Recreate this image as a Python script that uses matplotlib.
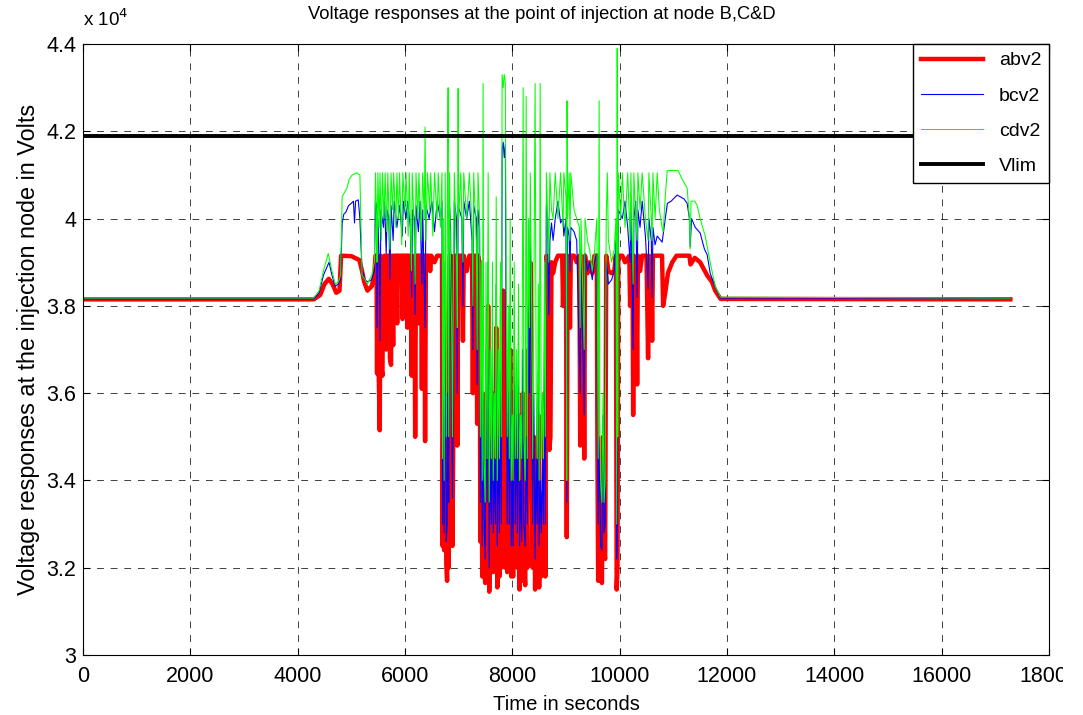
#Voltage responses at the point of injection (nodes B, C, D) vs Vlim

import matplotlib
matplotlib.use("Agg")
import matplotlib.pyplot as plt
from matplotlib.ticker import FuncFormatter
from matplotlib.transforms import Bbox, TransformedBbox

plt.rcParams['font.family'] = ['Liberation Sans', 'DejaVu Sans']

SCALE = 1e4  # values below are in units of 10^4 V

# abv2 : (time s, voltage x1e4)
abv2 = [
    (0, 3.815), (4300, 3.815), (4420, 3.825), (4500, 3.85), (4580, 3.862), (4650, 3.85),
    (4720, 3.83), (4780, 3.835), (4810, 3.915), (5000, 3.914), (5150, 3.905), (5200, 3.88),
    (5240, 3.855), (5300, 3.835), (5380, 3.845), (5430, 3.87), (5450, 3.915),
    (5470, 3.915), (5480, 3.645), (5490, 3.91), (5510, 3.65), (5530, 3.515), (5545, 3.915),
    (5560, 3.66), (5580, 3.64), (5595, 3.9), (5620, 3.915), (5650, 3.70), (5665, 3.915),
    (5700, 3.915), (5720, 3.68), (5740, 3.665), (5755, 3.915), (5780, 3.71), (5795, 3.915),
    (5840, 3.915), (5855, 3.76), (5870, 3.915), (5940, 3.915), (5955, 3.77), (5970, 3.915),
    (6040, 3.915), (6050, 3.75), (6065, 3.915), (6110, 3.915), (6125, 3.64), (6140, 3.9),
    (6175, 3.915), (6190, 3.5), (6205, 3.915), (6240, 3.915), (6250, 3.76), (6265, 3.915),
    (6300, 3.915), (6315, 3.61), (6330, 3.915), (6360, 3.915), (6375, 3.49), (6390, 3.915),
    (6450, 3.915), (6470, 3.88), (6490, 3.915), (6550, 3.9), (6600, 3.915), (6660, 3.915),
    (6690, 3.915), (6700, 3.25), (6715, 3.55), (6730, 3.24), (6750, 3.7), (6770, 3.21),
    (6785, 3.17), (6800, 3.45), (6815, 3.2), (6830, 3.915), (6850, 3.915), (6870, 3.55),
    (6885, 3.25), (6900, 3.51), (6920, 3.915), (6960, 3.915), (6975, 3.48), (6990, 3.915),
    (7060, 3.915), (7080, 3.72), (7095, 3.915), (7150, 3.88), (7200, 3.915), (7250, 3.915),
    (7265, 3.6), (7280, 3.915), (7330, 3.915), (7345, 3.53), (7360, 3.915), (7390, 3.9),
    (7405, 3.26), (7420, 3.6), (7440, 3.18), (7455, 3.5), (7475, 3.2), (7495, 3.165),
    (7510, 3.6), (7530, 3.25), (7550, 3.8), (7570, 3.145), (7590, 3.4), (7610, 3.2),
    (7630, 3.6), (7645, 3.19), (7665, 3.35), (7685, 3.22), (7700, 3.75), (7720, 3.155),
    (7740, 3.4), (7760, 3.18), (7780, 3.6), (7795, 3.2), (7810, 3.83), (7830, 3.835),
    (7850, 3.83), (7870, 3.2), (7885, 3.6), (7905, 3.19), (7925, 3.5), (7945, 3.2),
    (7960, 3.7), (7980, 3.18), (8000, 3.3), (8015, 3.18), (8035, 3.6), (8055, 3.22),
    (8075, 3.45), (8095, 3.2), (8115, 3.55), (8135, 3.15), (8155, 3.3), (8175, 3.17),
    (8195, 3.6), (8215, 3.22), (8240, 3.16), (8260, 3.4), (8280, 3.2), (8300, 3.7),
    (8320, 3.51), (8335, 3.9), (8360, 3.52), (8380, 3.2), (8400, 3.5), (8425, 3.15),
    (8445, 3.35), (8465, 3.2), (8485, 3.55), (8500, 3.155), (8520, 3.3), (8540, 3.18),
    (8560, 3.37), (8580, 3.19), (8600, 3.6), (8615, 3.18), (8635, 3.915), (8660, 3.9),
    (8675, 3.5), (8690, 3.47), (8710, 3.5), (8730, 3.9), (8760, 3.875), (8800, 3.9),
    (8850, 3.915), (8930, 3.915), (8945, 3.8), (8960, 3.915), (9000, 3.915), (9015, 3.27),
    (9030, 3.915), (9060, 3.9), (9075, 3.75), (9090, 3.915), (9150, 3.915), (9200, 3.9),
    (9250, 3.915), (9265, 3.48), (9280, 3.915), (9320, 3.9), (9340, 3.45), (9355, 3.915),
    (9400, 3.875), (9440, 3.9), (9490, 3.875), (9530, 3.915), (9575, 3.915), (9585, 3.49),
    (9600, 3.17), (9620, 3.4), (9645, 3.2), (9670, 3.165), (9690, 3.5), (9710, 3.24),
    (9730, 3.22), (9750, 3.915), (9770, 3.9), (9790, 3.88), (9850, 3.875), (9900, 3.88),
    (9930, 3.915), (9945, 3.15), (9960, 3.2), (9975, 3.915), (10050, 3.915), (10100, 3.9),
    (10180, 3.915), (10195, 3.8), (10210, 3.915), (10240, 3.915), (10252, 3.55), (10265, 3.915),
    (10310, 3.9), (10326, 3.62), (10340, 3.915), (10380, 3.88), (10420, 3.915), (10500, 3.915),
    (10530, 3.68), (10545, 3.915), (10590, 3.9), (10605, 3.72), (10620, 3.915), (10700, 3.915),
    (10790, 3.915), (10810, 3.8), (10850, 3.83), (10900, 3.875), (10980, 3.9), (11060, 3.915),
    (11130, 3.915), (11300, 3.915), (11320, 3.895), (11400, 3.91), (11500, 3.9), (11630, 3.87),
    (11720, 3.855), (11780, 3.835), (11880, 3.816), (17280, 3.815),
]

# bcv2
bcv2 = [
    (0, 3.816), (4300, 3.816), (4400, 3.83), (4480, 3.87), (4585, 3.90), (4640, 3.87),
    (4700, 3.845), (4760, 3.85), (4800, 3.86), (4830, 3.99), (4860, 4.01), (4900, 4.015),
    (4950, 4.03), (5000, 4.035), (5040, 4.04), (5060, 3.99), (5080, 4.04), (5130, 4.043),
    (5160, 4.0), (5200, 3.88), (5260, 3.86), (5300, 3.855), (5380, 3.86), (5430, 3.88),
    (5450, 4.04), (5470, 4.03), (5480, 3.75), (5495, 4.0), (5520, 3.9), (5535, 3.72),
    (5550, 4.02), (5600, 3.98), (5620, 4.04), (5650, 3.92), (5670, 4.02), (5700, 4.0),
    (5720, 3.86), (5740, 4.03), (5780, 3.95), (5800, 4.04), (5850, 3.98), (5900, 4.03),
    (5950, 3.96), (5970, 4.04), (6020, 4.0), (6050, 4.04), (6100, 3.98), (6125, 3.82),
    (6140, 4.02), (6175, 4.0), (6190, 3.78), (6205, 4.03), (6250, 3.97), (6280, 4.04),
    (6315, 3.85), (6330, 4.02), (6375, 3.75), (6390, 4.03), (6450, 4.0), (6500, 4.04),
    (6550, 3.97), (6600, 4.04), (6660, 4.0), (6690, 4.04), (6700, 3.3), (6715, 3.7),
    (6730, 3.28), (6750, 3.9), (6770, 3.26), (6785, 3.3), (6800, 3.6), (6815, 3.35),
    (6830, 4.03), (6850, 3.98), (6870, 3.6), (6885, 3.36), (6900, 3.6), (6920, 4.04),
    (6960, 4.0), (6975, 3.6), (6990, 4.03), (7060, 4.0), (7080, 3.8), (7095, 4.04),
    (7150, 4.0), (7200, 4.04), (7250, 3.95), (7265, 3.7), (7280, 4.03), (7330, 4.0),
    (7345, 3.62), (7360, 4.02), (7390, 3.98), (7405, 3.35), (7420, 3.7), (7440, 3.25),
    (7455, 3.6), (7475, 3.3), (7495, 3.22), (7510, 3.7), (7530, 3.35), (7550, 3.9),
    (7570, 3.2), (7590, 3.5), (7610, 3.3), (7630, 3.7), (7645, 3.28), (7665, 3.45),
    (7685, 3.3), (7700, 3.85), (7720, 3.25), (7740, 3.5), (7760, 3.28), (7780, 3.7),
    (7795, 3.3), (7810, 4.16), (7830, 4.175), (7850, 4.14), (7870, 4.17), (7885, 3.7),
    (7905, 3.3), (7925, 3.6), (7945, 3.3), (7960, 3.8), (7980, 3.25), (8000, 3.4),
    (8015, 3.25), (8035, 3.7), (8055, 3.3), (8075, 3.55), (8095, 3.28), (8115, 3.65),
    (8135, 3.25), (8155, 3.4), (8175, 3.26), (8195, 3.7), (8215, 3.3), (8240, 3.25),
    (8260, 3.5), (8280, 3.3), (8300, 3.8), (8320, 3.6), (8335, 4.0), (8360, 3.62),
    (8380, 3.3), (8400, 3.6), (8425, 3.22), (8445, 3.45), (8465, 3.3), (8485, 3.65),
    (8500, 3.25), (8520, 3.4), (8540, 3.28), (8560, 3.45), (8580, 3.3), (8600, 3.7),
    (8615, 3.3), (8635, 4.03), (8660, 4.0), (8680, 3.78), (8700, 3.95), (8730, 3.99),
    (8760, 3.95), (8800, 4.0), (8850, 4.04), (8900, 3.99), (8945, 4.0), (8960, 3.96),
    (9000, 4.0), (9015, 3.35), (9030, 3.98), (9060, 3.96), (9075, 3.88), (9090, 3.98),
    (9150, 3.97), (9200, 3.95), (9265, 3.6), (9280, 3.93), (9340, 3.55), (9355, 3.92),
    (9400, 3.88), (9440, 3.9), (9490, 3.86), (9530, 3.9), (9575, 3.92), (9585, 3.6),
    (9600, 3.3), (9620, 3.5), (9645, 3.25), (9670, 3.24), (9690, 3.55), (9710, 3.28),
    (9730, 3.3), (9750, 3.9), (9770, 3.88), (9790, 3.85), (9850, 3.86), (9900, 3.88),
    (9930, 3.95), (9945, 3.22), (9960, 3.35), (9975, 4.02), (10050, 4.0), (10100, 4.04),
    (10150, 3.98), (10195, 3.9), (10210, 4.03), (10252, 3.7), (10265, 4.0), (10300, 4.04),
    (10326, 3.82), (10340, 4.02), (10380, 3.98), (10420, 4.04), (10480, 3.96), (10530, 3.84),
    (10545, 4.0), (10590, 3.95), (10605, 3.82), (10620, 3.98), (10660, 3.94), (10700, 3.96),
    (10792, 3.946), (10850, 4.0), (10890, 4.035), (10960, 4.04), (11072, 4.054), (11200, 4.045),
    (11258, 4.035), (11300, 4.0), (11314, 3.935), (11340, 4.0), (11408, 3.98), (11500, 3.967),
    (11580, 3.93), (11631, 3.917), (11687, 3.875), (11780, 3.843), (11880, 3.818), (17280, 3.818),
]

# cdv2
cdv2 = [
    (0, 3.818), (4300, 3.818), (4400, 3.835), (4480, 3.88), (4570, 3.92), (4640, 3.88),
    (4700, 3.85), (4760, 3.855), (4800, 3.87), (4830, 4.05), (4920, 4.07), (4960, 4.09),
    (5015, 4.1), (5100, 4.105), (5160, 4.1), (5200, 3.87), (5260, 3.86), (5300, 3.85),
    (5380, 3.87), (5430, 3.9), (5450, 4.105), (5470, 4.0), (5480, 3.9), (5495, 4.105),
    (5520, 3.98), (5535, 4.105), (5560, 3.95), (5580, 4.105), (5610, 4.0), (5630, 4.105),
    (5660, 3.97), (5680, 4.105), (5720, 3.93), (5740, 4.105), (5770, 4.02), (5790, 4.105),
    (5830, 3.98), (5850, 4.105), (5880, 4.0), (5900, 4.105), (5940, 3.94), (5960, 4.105),
    (6000, 4.02), (6020, 4.105), (6060, 3.96), (6080, 4.105), (6120, 3.88), (6135, 4.105),
    (6170, 3.98), (6190, 3.85), (6205, 4.105), (6240, 4.0), (6260, 4.105), (6300, 3.95),
    (6330, 4.105), (6360, 4.0), (6375, 4.21), (6390, 3.95), (6420, 4.105), (6460, 4.02),
    (6480, 4.105), (6520, 3.96), (6550, 4.105), (6600, 4.0), (6620, 4.105), (6660, 3.98),
    (6690, 4.105), (6700, 3.45), (6715, 4.0), (6730, 3.4), (6750, 4.105), (6770, 3.5),
    (6790, 4.05), (6804, 4.30), (6815, 3.5), (6830, 4.105), (6850, 3.9), (6870, 3.75),
    (6885, 3.5), (6900, 3.8), (6920, 4.105), (6960, 3.9), (6975, 3.75), (6990, 4.298),
    (7000, 4.0), (7040, 4.105), (7080, 3.9), (7095, 4.105), (7150, 4.0), (7200, 4.105),
    (7250, 3.98), (7265, 3.8), (7280, 4.105), (7330, 3.95), (7345, 3.7), (7360, 4.105),
    (7390, 4.0), (7405, 3.5), (7420, 3.9), (7440, 3.4), (7456, 4.31), (7470, 3.45),
    (7495, 3.35), (7510, 3.9), (7530, 3.45), (7550, 4.105), (7570, 3.35), (7590, 3.7),
    (7610, 3.45), (7630, 3.9), (7645, 3.4), (7665, 3.6), (7685, 3.45), (7700, 4.05),
    (7720, 3.4), (7740, 3.7), (7760, 3.45), (7780, 3.9), (7795, 3.5), (7810, 4.33),
    (7830, 4.30), (7850, 4.33), (7870, 4.31), (7885, 3.9), (7905, 3.5), (7925, 3.8),
    (7945, 3.45), (7960, 4.0), (7980, 3.4), (8000, 3.55), (8015, 3.4), (8035, 3.9),
    (8055, 3.45), (8075, 3.7), (8095, 3.45), (8115, 3.85), (8135, 3.4), (8155, 3.55),
    (8175, 3.45), (8202, 4.30), (8215, 3.5), (8240, 3.4), (8258, 4.28), (8280, 3.45),
    (8300, 4.0), (8320, 3.75), (8335, 4.105), (8360, 3.8), (8380, 3.45), (8400, 3.8),
    (8425, 4.31), (8445, 3.6), (8465, 3.45), (8485, 3.85), (8500, 3.4), (8519, 4.31),
    (8540, 3.45), (8560, 3.6), (8580, 3.45), (8600, 3.9), (8615, 3.5), (8635, 4.105),
    (8660, 4.0), (8680, 3.9), (8700, 4.105), (8730, 4.02), (8760, 4.0), (8800, 4.105),
    (8850, 4.0), (8900, 4.105), (8945, 3.98), (8960, 4.105), (9000, 4.05), (9015, 3.4),
    (9020, 4.27), (9030, 4.0), (9060, 4.105), (9075, 3.95), (9090, 4.105), (9150, 4.02),
    (9200, 4.0), (9250, 3.98), (9265, 3.75), (9280, 4.0), (9340, 3.7), (9355, 4.0),
    (9400, 3.95), (9440, 3.93), (9490, 3.88), (9530, 3.92), (9575, 4.0), (9585, 3.8),
    (9600, 3.45), (9618, 4.27), (9630, 3.55), (9645, 3.4), (9670, 3.35), (9690, 3.6),
    (9710, 3.35), (9730, 3.4), (9750, 4.0), (9770, 4.105), (9790, 3.95), (9850, 3.9),
    (9900, 3.93), (9930, 4.0), (9945, 3.3), (9954, 4.39), (9965, 3.5), (9975, 4.105),
    (10020, 4.0), (10050, 4.105), (10100, 3.98), (10150, 4.105), (10195, 3.95), (10210, 4.105),
    (10252, 3.85), (10265, 4.105), (10300, 4.0), (10326, 3.95), (10340, 4.105), (10380, 4.02),
    (10420, 4.105), (10480, 4.0), (10530, 3.95), (10545, 4.105), (10590, 4.0), (10605, 3.95),
    (10620, 4.105), (10660, 4.0), (10700, 4.105), (10740, 4.02), (10790, 3.98), (10811, 3.97),
    (10850, 4.05), (10886, 4.11), (11091, 4.11), (11165, 4.09), (11258, 4.07), (11300, 4.0),
    (11314, 3.93), (11330, 4.04), (11400, 4.04), (11445, 4.03), (11500, 4.0), (11594, 3.96),
    (11687, 3.9), (11780, 3.845), (11880, 3.82), (17280, 3.818),
]

vlim = 4.19

series = [("abv2", abv2, "red", 3.2), ("bcv2", bcv2, "blue", 0.8), ("cdv2", cdv2, "lime", 0.75)]

fig = plt.figure(figsize=(10.83, 7.15), dpi=100)
ax = fig.add_axes([0.0766, 0.0839, 0.892, 0.8545])

for name, pts, col, lw in series:
    t, v = zip(*pts)
    ax.plot(t, [x * SCALE for x in v], color=col, linewidth=lw, label=name)
ax.axhline(vlim * SCALE, color="k", linewidth=2.8, label="Vlim")

ax.set_xlim(0, 18000)
ax.set_ylim(3 * SCALE, 4.4 * SCALE)
ax.set_xticks(range(0, 18001, 2000))
ax.set_yticks([y * SCALE for y in [3, 3.2, 3.4, 3.6, 3.8, 4, 4.2, 4.4]])
ax.yaxis.set_major_formatter(FuncFormatter(lambda y, p: f"{y / SCALE:g}"))
ax.tick_params(direction="in", length=5, top=True, right=True, labelsize=15.5)
ax.tick_params(axis="x", pad=8)
ax.tick_params(axis="y", pad=5)
ax.grid(True, color="k", linestyle=(0, (7, 7)), linewidth=0.7, alpha=0.75)
ax.set_axisbelow(True)

ax.set_title("Voltage responses at the point of injection at node B,C&D",
             fontsize=13.2, pad=18, x=0.475)
ax.set_xlabel("Time in seconds", fontsize=14.6, labelpad=6)
ax.set_ylabel("Voltage responses at the injection node in Volts", fontsize=16.8, labelpad=4)
fig.text(0.0766, 0.958, "x 10$^4$", fontsize=13.5, ha="left", va="bottom")

leg = ax.legend(loc="upper right", borderaxespad=0, fontsize=14, fancybox=False,
                framealpha=1, edgecolor="k", handlelength=3.2, labelspacing=0.9)
leg.get_frame().set_linewidth(1.0)

# original figure was cropped just past the last tick label
clip = TransformedBbox(Bbox([[0, 0], [1063 / 1083, 1]]), fig.transFigure)
for lab in ax.get_xticklabels():
    lab.set_clip_box(clip)
    lab.set_clip_on(True)

fig.savefig("out.png", dpi=100)
